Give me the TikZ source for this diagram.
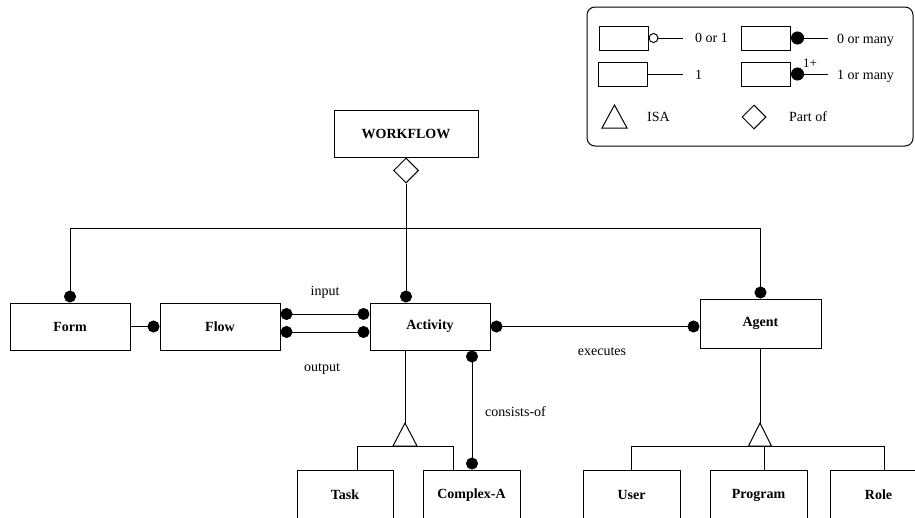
\documentclass[tikz,border=0pt]{standalone}
\usepackage{fontspec}
\setmainfont{Liberation Serif}
\usetikzlibrary{arrows.meta,shapes.geometric}

\tikzset{
  ent/.style={draw, line width=1pt, minimum width=120pt, minimum height=47pt,
              inner sep=0pt, font=\bfseries\fontsize{14}{16}\selectfont},
  subent/.style={ent, minimum width=97pt, minimum height=50pt},
  lbl/.style={font=\fontsize{14}{16}\selectfont, inner sep=0pt},
  link/.style={line width=1pt},
  tomany/.style={link, -{Circle[length=12pt]}},
  bothmany/.style={link, {Circle[length=12pt]}-{Circle[length=12pt]}},
  keybox/.style={draw, line width=1pt, minimum width=49pt, minimum height=24pt, inner sep=0pt},
  partof/.style={draw, line width=1pt, diamond, aspect=1, inner sep=0pt, minimum size=25pt},
}

\begin{document}
\begin{tikzpicture}[x=1pt,y=-1pt]
\useasboundingbox (0,0) rectangle (915,517);
\fill[white] (0,0) rectangle (915,517);
\clip (0,0) rectangle (915,517);

% ---------- entities ----------
\node[ent, minimum width=144pt] (workflow) at (406,133.5) {WORKFLOW};
\node[partof, anchor=north] (wfpart) at (workflow.south) {};

\node[ent] (form)     at (70,326.5)  {Form};
\node[ent] (flow)     at (220,326.5) {Flow};
\node[ent] (activity) at (430,326.5) {Activity};
\node[ent, minimum width=121pt, minimum height=49pt] (agent) at (760.5,323.5) {Agent};

\node[subent, minimum width=96pt] (task) at (345,495)   {Task};
\node[subent] (complexa) at (471.5,495) {Complex-A};
\node[subent] (user)     at (631.5,495) {User};
\node[subent] (program)  at (758.5,495) {Program};
\node[subent] (role)     at (878.5,495) {Role};

% ---------- part-of structure ----------
\coordinate (topbar) at (0,228);
\draw[link] (form.north |- topbar) -- (agent.north |- topbar);
\draw[tomany] (form.north |- topbar) -- (form.north);
\draw[tomany] (agent.north |- topbar) -- (agent.north);
\draw[tomany] (wfpart.south) -- (wfpart.south |- activity.north);

% ---------- relationships ----------
\draw[tomany] (form.east) -- (flow.west);
\draw[bothmany] ([yshift=12.5pt]flow.east) -- ([yshift=12.5pt]activity.west);
\draw[bothmany] ([yshift=-5.5pt]flow.east) -- ([yshift=-5.5pt]activity.west);
\draw[bothmany] (activity.east) -- (agent.west |- activity.east);
\coordinate (cons) at (472,0);
\draw[bothmany] (activity.south -| cons) -- (complexa.north -| cons);

\node[lbl] (lin)  at (325,292) {input};
\node[lbl] (lout) at (322,369) {output};
\node[lbl] (lexe) at (602,352) {executes};
\node[lbl, anchor=west] (lcons) at (485,412) {consists-of};

% ---------- ISA: Activity ----------
\coordinate (aisa) at (405,423);
\draw[link] (activity.south -| aisa) -- (aisa);
\draw[link, line join=miter] (aisa) -- (417,446) -- (393,446) -- cycle;
\coordinate (abarL) at (357,446);
\coordinate (abarR) at (453,446);
\draw[link] (abarL |- task.north) |- (abarR) -- (abarR |- complexa.north);

% ---------- ISA: Agent ----------
\coordinate (gisa) at (760,423);
\draw[link] (agent.south -| gisa) -- (gisa);
\draw[link, line join=miter] (gisa) -- (771.5,446) -- (748.5,446) -- cycle;
\coordinate (gbarP) at (764,446);
\coordinate (gbarR) at (884,446);
\draw[link] (user.north) |- (gbarR) -- (gbarR |- role.north);
\draw[link] (gbarP) -- (gbarP |- program.north);

% ---------- legend ----------
\node[draw, line width=1pt, rounded corners=8pt, minimum width=326pt,
      minimum height=139pt, inner sep=0pt] (legend) at (750,76.5) {};

\node[keybox] (kzo)  at (623.5,38) {};
\node[keybox] (kzm)  at (766,38)   {};
\node[keybox] (kone) at (622.5,74) {};
\node[keybox] (kom)  at (766,74)   {};

\draw[link, {Circle[open,length=10pt]}-] (kzo.east) -- ++(34,0);
\draw[link, {Circle[length=13pt]}-] (kzm.east) -- ++(37,0);
\draw[link] (kone.east) -- ++(35,0);
\draw[link, {Circle[length=13pt]}-] (kom.east) -- ++(37,0);

\node[lbl, anchor=west] (tzo)  at (695,38) {0 or 1};
\node[lbl, anchor=west] (tzm)  at (837,40) {0 or many};
\node[lbl, anchor=west] (tone) at (695,75) {1};
\node[lbl, font=\fontsize{13}{15}\selectfont] (tplus) at (810,63) {1+};
\node[lbl, anchor=west] (tom)  at (837,76) {1 or many};

\draw[link, line join=miter] (602,128) -- (627,128) -- (614.5,105) -- cycle;
\node[lbl, anchor=west] (tisa) at (647,117) {ISA};
\node[partof, minimum size=24pt] (kpart) at (754,117) {};
\node[lbl, anchor=west] (tpart) at (789,117) {Part of};
\end{tikzpicture}
\end{document}
